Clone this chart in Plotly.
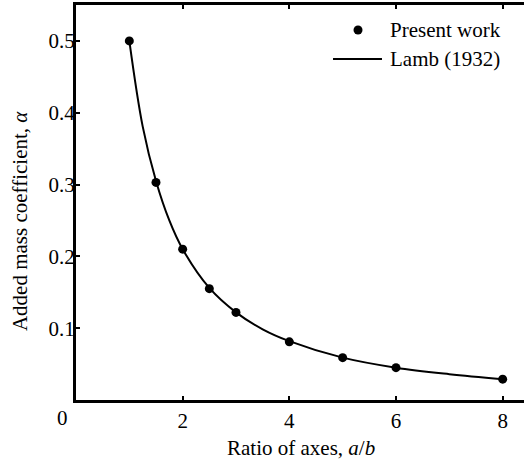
import plotly.graph_objects as go

# Present work: computed added mass coefficient vs axis ratio
ratio_present = [1, 1.5, 2, 2.5, 3, 4, 5, 6, 8]
alpha_present = [0.5, 0.303, 0.210, 0.155, 0.122, 0.081, 0.059, 0.045, 0.029]

# Lamb (1932) reference curve
ratio_lamb = [1, 1.25, 1.5, 1.75, 2, 2.5, 3, 3.5, 4, 5, 6, 7, 8]
alpha_lamb = [0.5, 0.381, 0.305, 0.250, 0.210, 0.156, 0.122, 0.0985, 0.082, 0.059, 0.045, 0.036, 0.029]

x_ticks = [0, 2, 4, 6, 8]
x_ticktext = ["", "2", "4", "6", "8"]
y_ticks = [0.1, 0.2, 0.3, 0.4, 0.5]
y_ticktext = ["0.1", "0.2", "0.3", "0.4", "0.5"]

FONT = "Times New Roman, Liberation Serif, DejaVu Serif, serif"
FS = 21

fig = go.Figure()
fig.add_trace(go.Scatter(
    x=ratio_lamb, y=alpha_lamb, mode="lines", name="Lamb (1932)",
    line=dict(color="black", width=2, shape="spline", smoothing=1.0),
    showlegend=False,
))
fig.add_trace(go.Scatter(
    x=ratio_present, y=alpha_present, mode="markers", name="Present work",
    marker=dict(color="black", size=9),
    showlegend=False,
))

fig.update_layout(
    width=524, height=460,
    margin=dict(l=76, r=0, t=5, b=60),
    plot_bgcolor="white", paper_bgcolor="white",
    font=dict(family=FONT, size=FS, color="black"),
    xaxis=dict(
        range=[0, 8.4], tickvals=x_ticks, ticktext=x_ticktext,
        showline=True, linecolor="black", linewidth=3, mirror="ticks",
        ticks="inside", ticklen=4, tickwidth=2, tickcolor="black",
        showgrid=False, zeroline=False,
        tickfont=dict(family=FONT, size=FS),
    ),
    yaxis=dict(
        range=[0, 0.55], tickvals=y_ticks, ticktext=y_ticktext,
        showline=True, linecolor="black", linewidth=3, mirror=False,
        ticks="inside", ticklen=4, tickwidth=2, tickcolor="black",
        showgrid=False, zeroline=False, ticklabelstandoff=-6,
        tickfont=dict(family=FONT, size=FS),
    ),
)

# Axis titles and the shared origin label
fig.add_annotation(text="Ratio of axes, <i>a</i>/<i>b</i>", xref="paper", yref="paper",
                   x=0.502, y=-0.122, showarrow=False, xanchor="center", yanchor="middle")
fig.add_annotation(text="Added mass coefficient, <i>α</i>", xref="paper", yref="paper",
                   x=-0.125, y=0.453, showarrow=False, textangle=-90,
                   xanchor="center", yanchor="middle")
fig.add_annotation(text="0", xref="paper", yref="paper", x=-0.03125, y=-0.0456,
                   showarrow=False, xanchor="center", yanchor="middle")

# Legend drawn by hand so the line sample has the right length
fig.add_shape(type="circle", xref="paper", yref="paper", xsizemode="pixel", ysizemode="pixel",
              xanchor=0.6295, yanchor=0.9367, x0=-4.5, x1=4.5, y0=-4.5, y1=4.5,
              fillcolor="black", line=dict(width=0))
fig.add_shape(type="line", xref="paper", yref="paper", x0=0.5737, x1=0.683,
              y0=0.8633, y1=0.8633, line=dict(color="black", width=2))
fig.add_annotation(text="Present work", xref="paper", yref="paper", x=0.6964, y=0.9367,
                   showarrow=False, xanchor="left", yanchor="middle")
fig.add_annotation(text="Lamb (1932)", xref="paper", yref="paper", x=0.6964, y=0.8633,
                   showarrow=False, xanchor="left", yanchor="middle")

fig.write_html("out.html")
